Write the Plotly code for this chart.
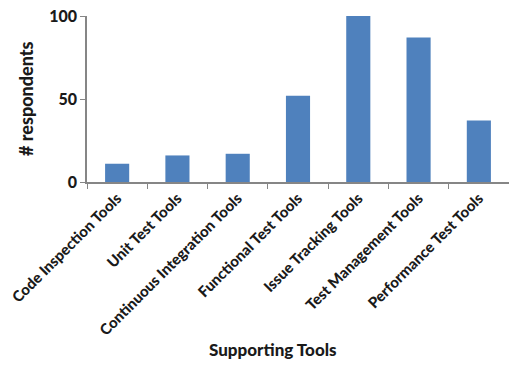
import plotly.graph_objects as go

categories = [
    "Code Inspection Tools",
    "Unit Test Tools",
    "Continuous Integration Tools",
    "Functional Test Tools",
    "Issue Tracking Tools",
    "Test Management Tools",
    "Performance Test Tools",
]
respondents = [11, 16, 17, 52, 100, 87, 37]
y_ticks = [0, 50, 100]

FONT = "Lato"
WEIGHT = 900
AXIS_COLOR = "#868686"
TEXT_COLOR = "#1a1a1a"

fig = go.Figure(
    go.Bar(
        x=categories,
        y=respondents,
        marker=dict(color="#4F81BD", line=dict(width=0)),
        width=0.4,
    )
)

fig.update_layout(
    width=509,
    height=366,
    margin=dict(l=87, r=0, t=16, b=184),
    paper_bgcolor="white",
    plot_bgcolor="white",
    showlegend=False,
    font=dict(family=FONT, color=TEXT_COLOR),
)

fig.update_xaxes(
    type="category",
    tickangle=-45,
    tickson="boundaries",
    ticks="outside",
    ticklen=5,
    tickcolor=AXIS_COLOR,
    showline=True,
    linecolor=AXIS_COLOR,
    linewidth=1.5,
    showgrid=False,
    tickfont=dict(family=FONT, size=15, color=TEXT_COLOR, weight=WEIGHT),
)

fig.update_yaxes(
    range=[0, 100],
    tickvals=y_ticks,
    ticks="outside",
    ticklen=5,
    tickcolor=AXIS_COLOR,
    showline=True,
    linecolor=AXIS_COLOR,
    linewidth=1.5,
    showgrid=False,
    zeroline=False,
    tickfont=dict(family=FONT, size=16, color=TEXT_COLOR, weight=WEIGHT),
)

fig.add_annotation(
    text="# respondents",
    xref="paper", yref="paper",
    x=(26 - 87) / 422, y=0.5,
    xanchor="center", yanchor="middle",
    textangle=-90,
    showarrow=False,
    font=dict(family=FONT, size=18, color=TEXT_COLOR, weight=WEIGHT),
)

fig.add_annotation(
    text="Supporting Tools",
    xref="paper", yref="paper",
    x=(273 - 87) / 422, y=(182 - 349) / 166,
    xanchor="center", yanchor="middle",
    showarrow=False,
    font=dict(family=FONT, size=17, color=TEXT_COLOR, weight=WEIGHT),
)

fig.write_html("out.html")
